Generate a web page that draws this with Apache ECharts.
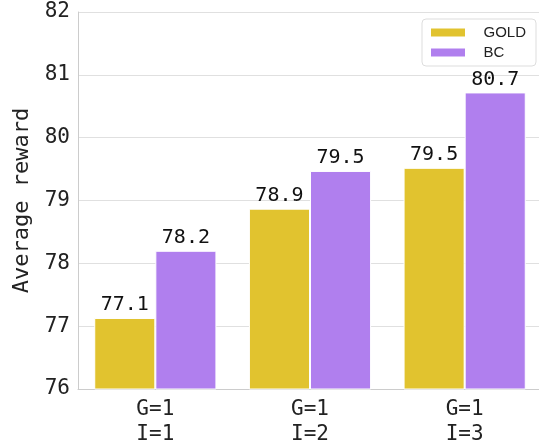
<!DOCTYPE html>
<html><head><meta charset="utf-8">
<script src="https://cdn.jsdelivr.net/npm/echarts@6/dist/echarts.min.js"></script>
<style>html,body{margin:0;padding:0;background:#fff}#c{width:539px;height:443px}</style>
</head><body><div id="c"></div>
<script>
const categories = ['G=1\nI=1', 'G=1\nI=2', 'G=1\nI=3'];
const goldValues = [77.13, 78.87, 79.52];
const bcValues = [78.2, 79.47, 80.72];
const yTicks = [76, 77, 78, 79, 80, 81, 82];
const seriesNames = ['GOLD', 'BC'];
const colors = ['#e1c32f', '#b07fee'];
const mono = 'DejaVu Sans Mono';
const chart = echarts.init(document.getElementById('c'));
const lbl = {show: true, position: 'top', distance: 3, fontFamily: mono, fontSize: 20, color: '#111', formatter: p => p.value.toFixed(1)};
chart.setOption({
  animation: false,
  grid: {left: 78, right: -3, top: 12, bottom: 54, containLabel: false, outerBoundsMode: 'none'},
  legend: {
    data: seriesNames, orient: 'vertical', left: 422, top: 19,
    itemWidth: 36, itemHeight: 10, itemGap: 5, padding: [6, 10, 6, 7],
    borderColor: '#ddd', borderWidth: 1, borderRadius: 4,
    textStyle: {fontFamily: 'Liberation Sans', fontSize: 15, color: '#222'},
    formatter: n => '   ' + n,
    icon: 'rect'
  },
  xAxis: {
    type: 'category', data: categories,
    axisLine: {lineStyle: {color: '#ccc'}}, axisTick: {show: false},
    axisLabel: {fontFamily: mono, fontSize: 21, color: '#222', lineHeight: 25, margin: 8}
  },
  yAxis: {
    type: 'value', min: yTicks[0], max: yTicks[yTicks.length - 1], interval: 1,
    name: 'Average reward', nameLocation: 'middle', nameGap: 45,
    nameTextStyle: {fontFamily: mono, fontSize: 22, color: '#222'},
    axisLine: {show: true, lineStyle: {color: '#ccc'}}, axisTick: {show: false},
    axisLabel: {fontFamily: mono, fontSize: 21, color: '#222', margin: 8},
    splitLine: {lineStyle: {color: '#e0e0e0'}}
  },
  series: [
    {name: seriesNames[0], type: 'bar', data: goldValues, barCategoryGap: '21%', barGap: '0%',
     itemStyle: {color: colors[0], borderColor: '#fff', borderWidth: 1}, label: lbl},
    {name: seriesNames[1], type: 'bar', data: bcValues,
     itemStyle: {color: colors[1], borderColor: '#fff', borderWidth: 1}, label: lbl}
  ]
});
</script></body></html>
